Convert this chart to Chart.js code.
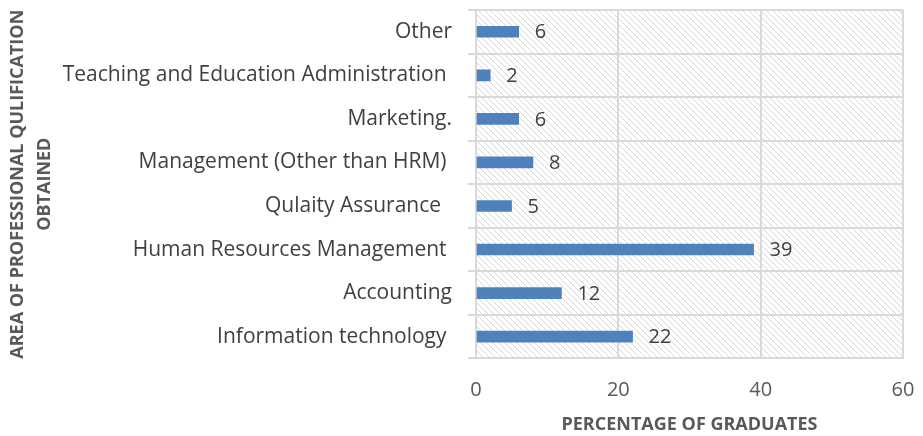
<!DOCTYPE html>
<html>
<head>
<meta charset="utf-8">
<script src="https://cdn.jsdelivr.net/npm/chart.js@4"></script>
<style>
  html, body { margin: 0; padding: 0; background: #fff; }
  #wrap { width: 923px; height: 436px; }
</style>
</head>
<body>
<div id="wrap"><canvas id="chart" width="923" height="436"></canvas></div>
<script>
// Data
const categories = [
    'Other',
    'Teaching and Education Administration ',
    'Marketing.',
    'Management (Other than HRM) ',
    'Qulaity Assurance  ',
    'Human Resources Management ',
    'Accounting',
    'Information technology '
];
const percentages = [6, 2, 6, 8, 5, 39, 12, 22];
const xTicks = [0, 20, 40, 60];

const fontFamily = '"Open Sans", "Liberation Sans", sans-serif';

// hatched plot background
function makeHatch() {
    const size = 6;
    const c = document.createElement('canvas');
    c.width = size;
    c.height = size;
    const g = c.getContext('2d');
    g.fillStyle = '#ffffff';
    g.fillRect(0, 0, size, size);
    g.strokeStyle = '#d6d6d6';
    g.lineWidth = 1;
    g.beginPath();
    g.moveTo(-1, -1);
    g.lineTo(size + 1, size + 1);
    g.moveTo(-1, size - 1);
    g.lineTo(1, size + 1);
    g.moveTo(size - 1, -1);
    g.lineTo(size + 1, 1);
    g.stroke();
    return g.createPattern(c, 'repeat');
}

const hatchBackground = {
    id: 'hatchBackground',
    beforeDraw(chart) {
        const a = chart.chartArea;
        const ctx = chart.ctx;
        ctx.save();
        ctx.fillStyle = makeHatch();
        ctx.fillRect(a.left, a.top, a.right - a.left, a.bottom - a.top);
        ctx.restore();
    }
};

// value labels to the right of each bar
const valueLabels = {
    id: 'valueLabels',
    afterDatasetsDraw(chart) {
        const ctx = chart.ctx;
        const meta = chart.getDatasetMeta(0);
        ctx.save();
        ctx.font = '20px ' + fontFamily;
        ctx.fillStyle = '#404040';
        ctx.textAlign = 'left';
        ctx.textBaseline = 'middle';
        meta.data.forEach((bar, i) => {
            ctx.fillText(String(percentages[i]), bar.x + 16, bar.y + 1);
        });
        ctx.restore();
    }
};

new Chart(document.getElementById('chart'), {
    type: 'bar',
    data: {
        labels: categories,
        datasets: [{
            data: percentages,
            backgroundColor: '#4f81bd',
            barThickness: 11
        }]
    },
    options: {
        indexAxis: 'y',
        responsive: false,
        animation: false,
        layout: { padding: { left: 4, right: 20, top: 10, bottom: 0 } },
        plugins: {
            legend: { display: false },
            tooltip: { enabled: false }
        },
        scales: {
            x: {
                min: 0,
                max: 60,
                afterBuildTicks(scale) {
                    scale.ticks = xTicks.map(v => ({ value: v }));
                },
                afterFit(scale) {
                    scale.paddingLeft = 0;
                    scale.paddingRight = 0;
                },
                grid: { color: '#d9d9d9', drawTicks: false, lineWidth: 2 },
                border: { color: '#d9d9d9', width: 2 },
                ticks: {
                    padding: 20,
                    color: '#595959',
                    font: { family: fontFamily, size: 20 }
                },
                title: {
                    display: true,
                    text: 'PERCENTAGE OF GRADUATES',
                    color: '#595959',
                    font: { family: fontFamily, size: 18, weight: 'bold' },
                    padding: { top: -8, bottom: 0 }
                }
            },
            y: {
                afterFit(scale) {
                    scale.width = 472;
                    scale.paddingTop = 0;
                    scale.paddingBottom = 0;
                },
                grid: { color: '#d9d9d9', tickLength: 8, lineWidth: 2 },
                border: { color: '#d9d9d9', width: 2 },
                ticks: {
                    padding: 16,
                    color: '#404040',
                    font: { family: fontFamily, size: 21 }
                },
                title: {
                    display: true,
                    text: ['AREA OF PROFESSIONAL QULIFICATION', 'OBTAINED'],
                    color: '#595959',
                    font: { family: fontFamily, size: 18, weight: 'bold', lineHeight: 1.5 },
                    padding: 0
                }
            }
        }
    },
    plugins: [hatchBackground, valueLabels]
});
</script>
</body>
</html>
